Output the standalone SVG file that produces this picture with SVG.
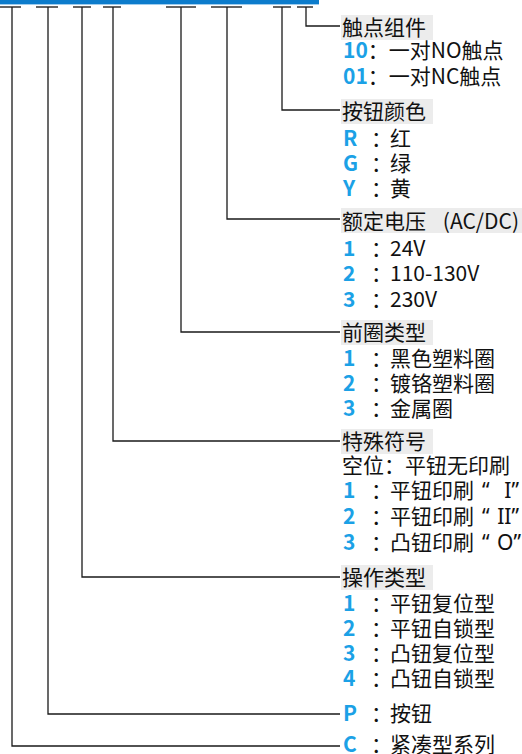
<svg xmlns="http://www.w3.org/2000/svg" width="522" height="754" viewBox="0 0 522 754">
<style>
text{font-family:"Noto Sans CJK SC","Noto Sans",sans-serif;font-size:21px;fill:#111}
.k{fill:#1ba1e6;font-weight:bold}
.q{font-family:"Noto Sans",sans-serif}
.hb{fill:#ececec}
.c{fill:none;stroke:#1a1a1a;stroke-width:1.3}
.t{fill:none;stroke:#333;stroke-width:1.3}
</style>
<rect x="0" y="0" width="319" height="4" fill="#0c7ccc"/>
<rect x="0" y="4" width="319" height="1" fill="#9fcdee"/>
<g id="connectors">
<path class="t" d="M0 7H21M36 7H58M73 7H91M103 7H121M166 7H196M211 7H242M273 7H291M297 7H313"/>
<path class="c" d="M306 7V26H340"/>
<path class="c" d="M282 7V110H340"/>
<path class="c" d="M227 7V219H340"/>
<path class="c" d="M181 7V332H340"/>
<path class="c" d="M113 7V441H340"/>
<path class="c" d="M82 7V577H340"/>
<path class="c" d="M48 7V714H340"/>
<path class="c" d="M12 7V746H340"/>
</g>
<g id="contact">
<rect class="hb" x="341" y="15" width="92" height="25"/>
<text x="342" y="34.5">触点组件</text>
<text x="343" y="57.5"><tspan class="k">10</tspan>：一对NO触点</text>
<text x="343" y="83.5"><tspan class="k">01</tspan>：一对NC触点</text>
</g>
<g id="color">
<rect class="hb" x="341" y="99" width="92" height="25"/>
<text x="342" y="118.5">按钮颜色</text>
<text x="343" y="145.5"><tspan class="k">R</tspan><tspan x="371">：</tspan><tspan x="390">红</tspan></text>
<text x="343" y="170.5"><tspan class="k">G</tspan><tspan x="371">：</tspan><tspan x="390">绿</tspan></text>
<text x="343" y="195.5"><tspan class="k">Y</tspan><tspan x="371">：</tspan><tspan x="390">黄</tspan></text>
</g>
<g id="voltage">
<rect class="hb" x="341" y="208" width="181" height="25"/>
<text x="342" y="228.5">额定电压</text>
<text x="519" y="228.5" text-anchor="end">(AC/DC)</text>
<text x="343" y="255.5"><tspan class="k">1</tspan><tspan x="371">：</tspan><tspan x="390">24V</tspan></text>
<text x="343" y="280.5"><tspan class="k">2</tspan><tspan x="371">：</tspan><tspan x="390">110-130V</tspan></text>
<text x="343" y="306.5"><tspan class="k">3</tspan><tspan x="371">：</tspan><tspan x="390">230V</tspan></text>
</g>
<g id="bezel">
<rect class="hb" x="341" y="320" width="92" height="25"/>
<text x="342" y="339.5">前圈类型</text>
<text x="343" y="365.5"><tspan class="k">1</tspan><tspan x="371">：</tspan><tspan x="390">黑色塑料圈</tspan></text>
<text x="343" y="390.5"><tspan class="k">2</tspan><tspan x="371">：</tspan><tspan x="390">镀铬塑料圈</tspan></text>
<text x="343" y="415.5"><tspan class="k">3</tspan><tspan x="371">：</tspan><tspan x="390">金属圈</tspan></text>
</g>
<g id="symbol">
<rect class="hb" x="341" y="429" width="92" height="25"/>
<text x="342" y="448.5">特殊符号</text>
<text x="342" y="472.5">空位：平钮无印刷</text>
<text x="343" y="497.5"><tspan class="k">1</tspan><tspan x="371">：</tspan><tspan x="390">平钮印刷</tspan><tspan class="q" x="482">“</tspan></text>
<text class="q" x="519" y="497.5" text-anchor="end">I”</text>
<text x="343" y="523.5"><tspan class="k">2</tspan><tspan x="371">：</tspan><tspan x="390">平钮印刷</tspan><tspan class="q" x="482">“</tspan></text>
<text class="q" x="519" y="523.5" text-anchor="end">II”</text>
<text x="343" y="549.5"><tspan class="k">3</tspan><tspan x="371">：</tspan><tspan x="390">凸钮印刷</tspan><tspan class="q" x="482">“</tspan></text>
<text class="q" x="521" y="549.5" text-anchor="end">O”</text>
</g>
<g id="operation">
<rect class="hb" x="341" y="565" width="92" height="25"/>
<text x="342" y="584.5">操作类型</text>
<text x="343" y="610.5"><tspan class="k">1</tspan><tspan x="371">：</tspan><tspan x="390">平钮复位型</tspan></text>
<text x="343" y="635.5"><tspan class="k">2</tspan><tspan x="371">：</tspan><tspan x="390">平钮自锁型</tspan></text>
<text x="343" y="660.5"><tspan class="k">3</tspan><tspan x="371">：</tspan><tspan x="390">凸钮复位型</tspan></text>
<text x="343" y="685.5"><tspan class="k">4</tspan><tspan x="371">：</tspan><tspan x="390">凸钮自锁型</tspan></text>
</g>
<g id="button">
<text x="343" y="720.5"><tspan class="k">P</tspan><tspan x="371">：</tspan><tspan x="390">按钮</tspan></text>
</g>
<g id="series">
<text x="343" y="751.5"><tspan class="k">C</tspan><tspan x="371">：</tspan><tspan x="390">紧凑型系列</tspan></text>
</g>
</svg>
